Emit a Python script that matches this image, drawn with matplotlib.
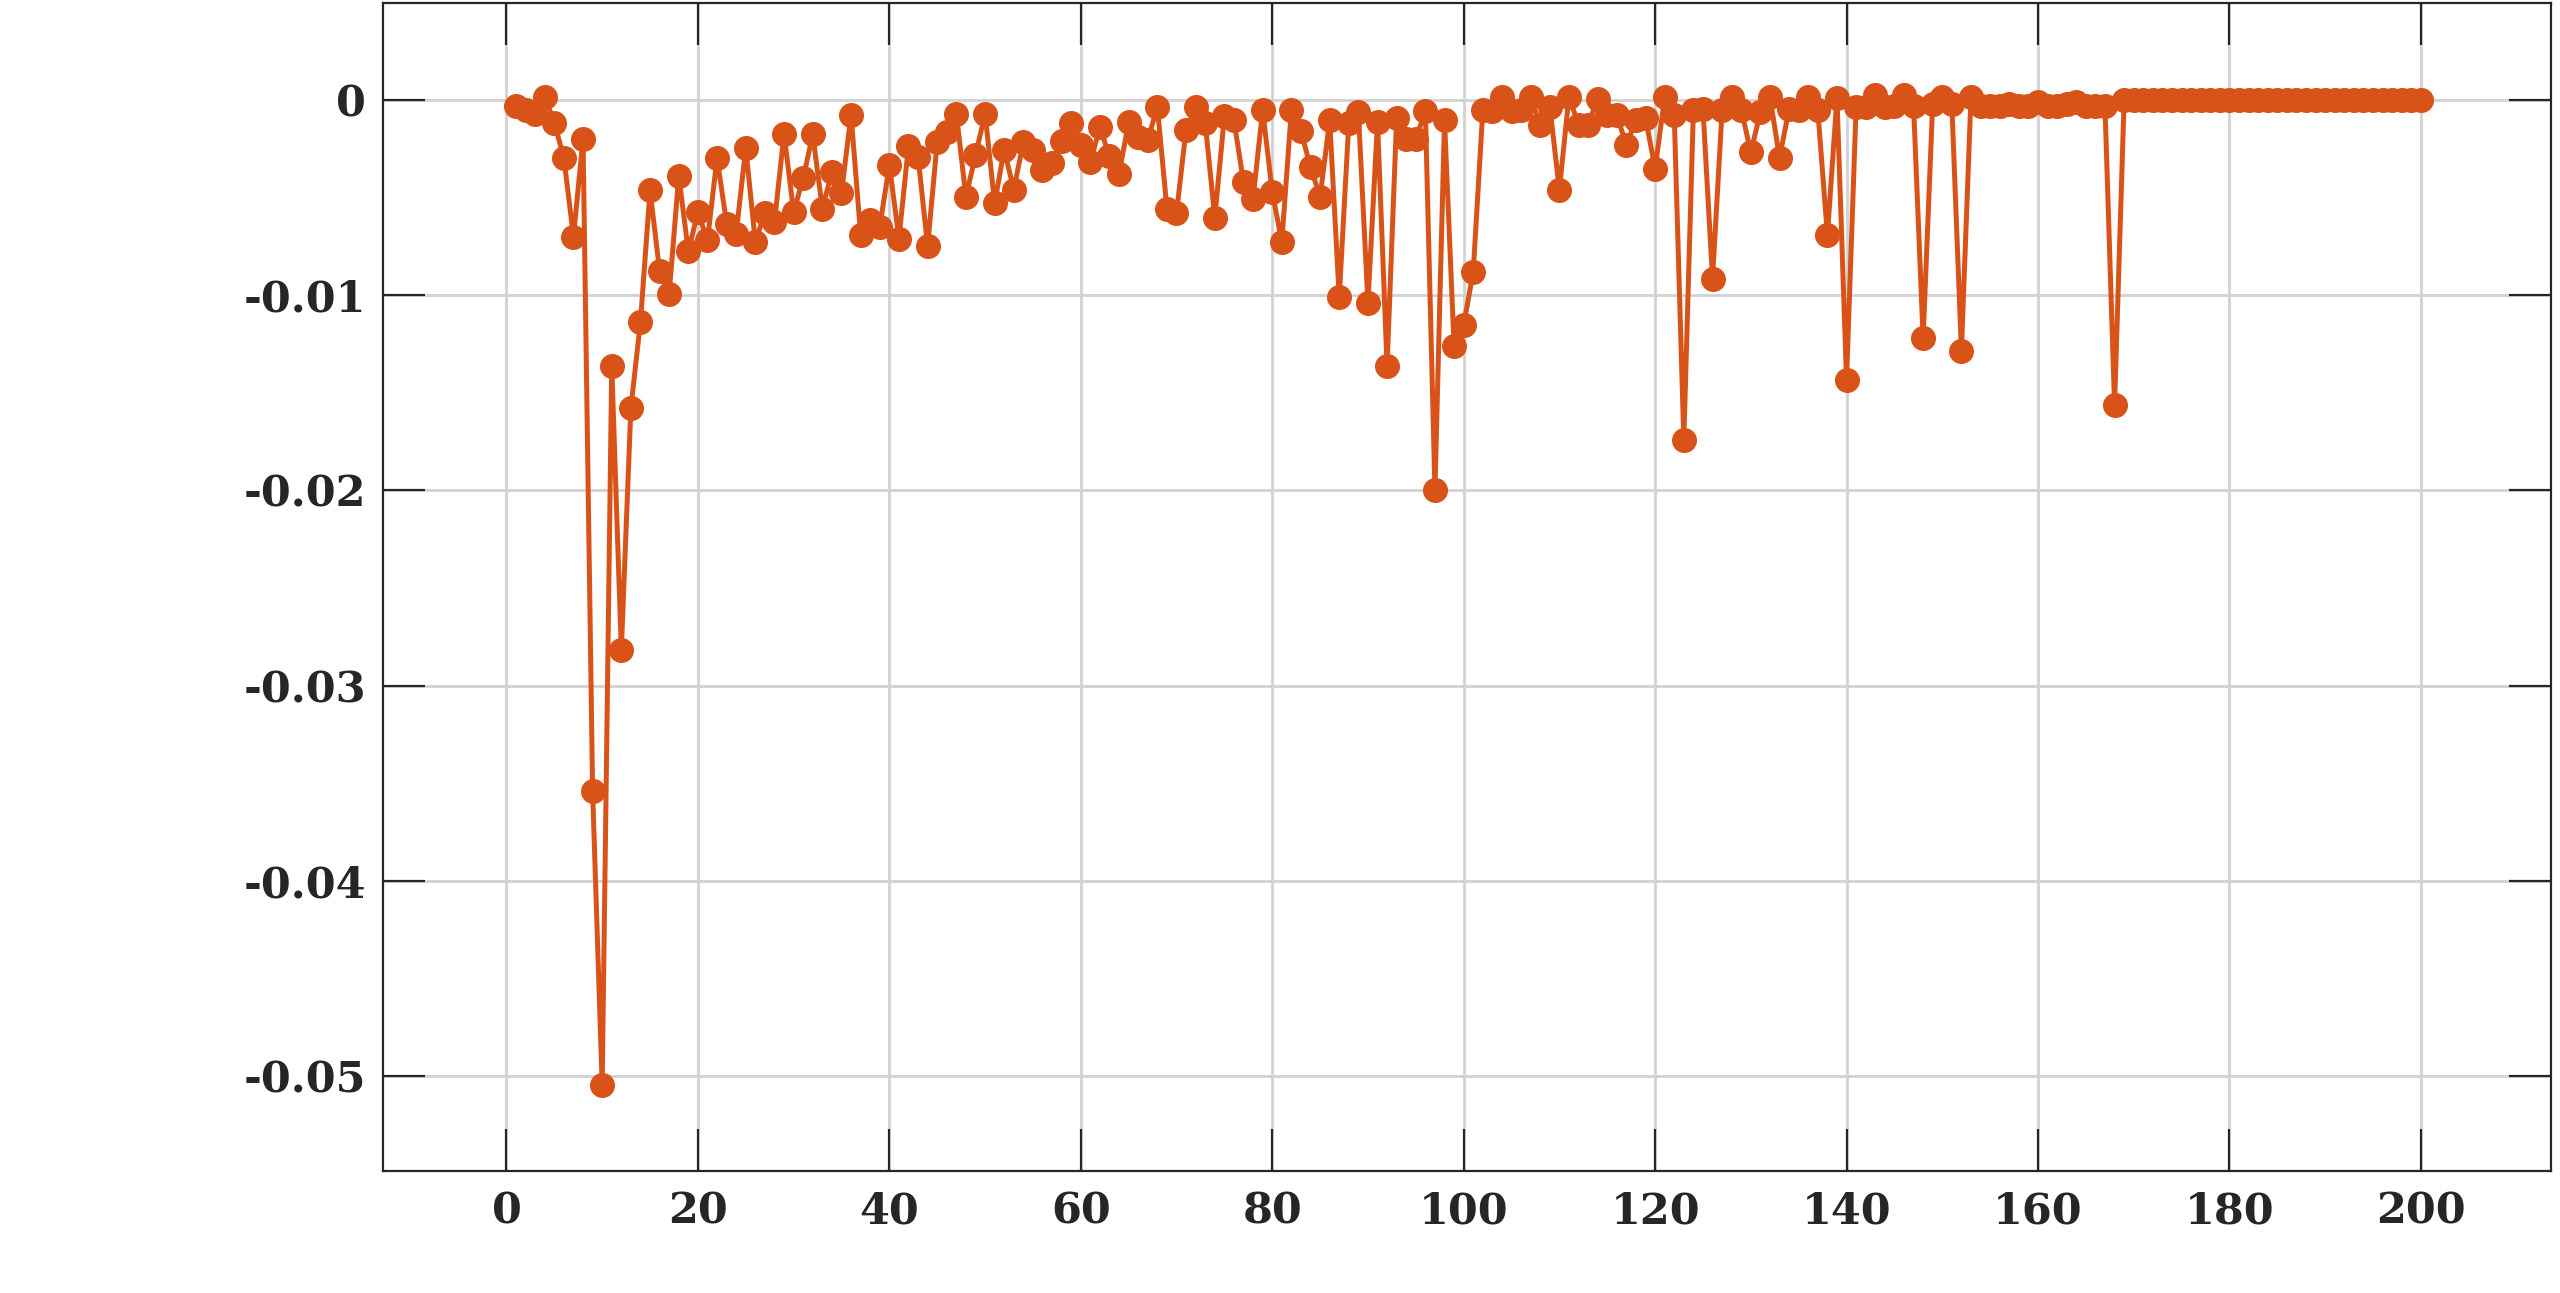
import matplotlib
matplotlib.use("Agg")
import matplotlib.pyplot as plt
import numpy as np

# ---- data ----
iterations = list(range(1, 201))
values = [
    -0.00029, -0.0005, -0.0007, 0.0002, -0.00114, -0.00295, -0.0070, -0.00195, -0.0354, -0.0505,   # 1-10
    -0.01362, -0.02818, -0.01575, -0.01135, -0.00461, -0.00874, -0.0099, -0.00387, -0.00773, -0.00573,  # 11-20
    -0.00717, -0.00294, -0.00631, -0.00683, -0.00242, -0.00725, -0.00577, -0.00623, -0.00171, -0.00572,  # 21-30
    -0.00398, -0.00174, -0.00555, -0.00367, -0.00474, -0.00073, -0.00688, -0.00614, -0.00648, -0.00329,  # 31-40
    -0.00708, -0.00234, -0.0029, -0.00747, -0.00213, -0.00162, -0.00068, -0.00495, -0.00282, -0.00068,  # 41-50
    -0.00526, -0.00253, -0.00457, -0.00213, -0.00253, -0.00355, -0.00321, -0.0021, -0.00114, -0.00227,  # 51-60
    -0.00316, -0.00137, -0.00287, -0.00375, -0.00111, -0.00188, -0.00201, -0.00034, -0.00555, -0.00577,  # 61-70
    -0.0015, -0.00034, -0.00114, -0.00602, -0.00082, -0.00102, -0.00418, -0.00503, -0.00048, -0.00469,  # 71-80
    -0.00725, -0.00051, -0.00157, -0.00341, -0.00495, -0.00102, -0.01007, -0.00116, -0.0006, -0.01038,  # 81-90
    -0.00111, -0.01362, -0.00089, -0.00196, -0.00196, -0.00055, -0.01997, -0.00102, -0.01259, -0.01152,  # 91-100
    -0.00879, -0.00051, -0.00055, 0.0002, -0.00055, -0.00051, 0.00017, -0.00125, -0.00034, -0.00457,  # 101-110
    0.0002, -0.00125, -0.00125, 0.0001, -0.00077, -0.00077, -0.00227, -0.00102, -0.00089, -0.0035,  # 111-120
    0.00017, -0.00077, -0.01741, -0.00051, -0.00043, -0.00913, -0.00051, 0.00017, -0.00048, -0.00265,  # 121-130
    -0.0006, 0.00017, -0.00294, -0.00043, -0.00051, 0.0002, -0.00051, -0.00691, 0.00014, -0.01433,  # 131-140
    -0.00034, -0.00034, 0.00026, -0.00034, -0.00026, 0.00026, -0.00026, -0.0122, -0.00017, 0.0002,  # 141-150
    -0.0002, -0.01283, 0.00017, -0.0003, -0.0003, -0.0003, -0.0002, -0.0003, -0.0003, -0.0001,  # 151-160
    -0.0003, -0.0003, -0.0002, -0.0001, -0.0003, -0.0003, -0.0003, -0.01561, 0.0, 0.0,  # 161-170
    0.0, 0.0, 0.0, 0.0, 0.0, 0.0, 0.0, 0.0, 0.0, 0.0,  # 171-180
    0.0, 0.0, 0.0, 0.0, 0.0, 0.0, 0.0, 0.0, 0.0, 0.0,  # 181-190
    0.0, 0.0, 0.0, 0.0, 0.0, 0.0, 0.0, 0.0, 0.0, 0.0,  # 191-200
]
x_ticks = [0, 20, 40, 60, 80, 100, 120, 140, 160, 180, 200]
x_tick_labels = ["0", "20", "40", "60", "80", "100", "120", "140", "160", "180", "200"]
y_ticks = [0, -0.01, -0.02, -0.03, -0.04, -0.05]
y_tick_labels = ["0", "-0.01", "-0.02", "-0.03", "-0.04", "-0.05"]

line_color = "#D95319"
text_color = "#262626"

fig = plt.figure(figsize=(25.6, 12.93), dpi=100)
ax = fig.add_axes([0.1496, 0.0943, 0.9965 - 0.1496, 0.9977 - 0.0943])

ax.plot(iterations, values, color=line_color, linewidth=3.6, marker="o",
        markersize=17, markerfacecolor=line_color, markeredgecolor=line_color, zorder=3)

ax.set_xlim(-12.9, 213.6)
ax.set_ylim(-0.0549, 0.0050)
ax.set_xticks(x_ticks)
ax.set_xticklabels(x_tick_labels)
ax.set_yticks(y_ticks)
ax.set_yticklabels(y_tick_labels)

ax.grid(True, color="#d2d2d2", linewidth=2.0, zorder=0)
ax.set_axisbelow(True)

for s in ax.spines.values():
    s.set_color(text_color)
    s.set_linewidth(1.6)

ax.tick_params(axis="both", which="major", direction="in", length=30, width=1.6,
               color=text_color, top=True, right=True, labelcolor=text_color)
ax.tick_params(axis="x", pad=14)
ax.tick_params(axis="y", pad=12)
for lab in ax.get_xticklabels() + ax.get_yticklabels():
    lab.set_fontfamily("DejaVu Serif")
    lab.set_fontweight("bold")
    lab.set_fontsize(31)

fig.savefig("out.png", dpi=100, facecolor="white")
